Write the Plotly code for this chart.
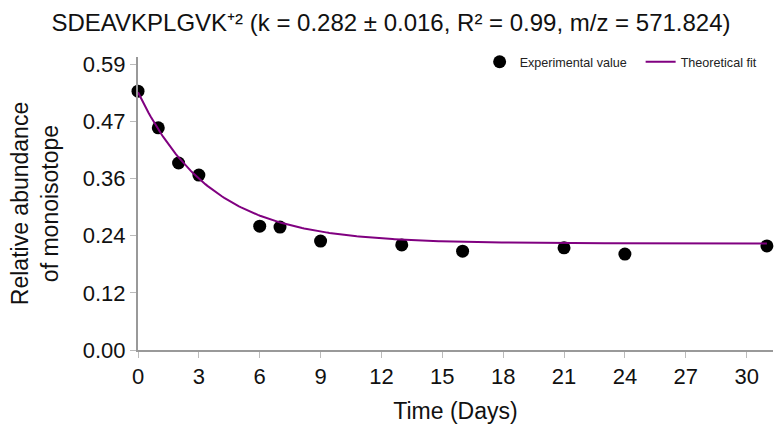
import numpy as np
import plotly.graph_objects as go

# Experimental data
days = [0, 1, 2, 3, 6, 7, 9, 13, 16, 21, 24, 31]
abundance = [0.537, 0.461, 0.388, 0.363, 0.257, 0.255, 0.226, 0.218, 0.205, 0.212, 0.199, 0.216]

# Theoretical fit parameters: y = plateau + amp * exp(-k t)
k_rate = 0.282
plateau = 0.221
amp = 0.314

y_tickvals = [0.0, 0.1186, 0.2372, 0.3558, 0.4744, 0.593]
y_ticktext = ["0.00", "0.12", "0.24", "0.36", "0.47", "0.59"]
x_tickvals = [0, 3, 6, 9, 12, 15, 18, 21, 24, 27, 30]

t_fit = np.linspace(0, 31, 300)
y_fit = plateau + amp * np.exp(-k_rate * t_fit)

FONT = "Liberation Sans, Arial, sans-serif"

fig = go.Figure()
fig.add_trace(go.Scatter(
    x=days, y=abundance, mode="markers", name="Experimental value",
    marker=dict(color="black", size=13), cliponaxis=False))
fig.add_trace(go.Scatter(
    x=t_fit, y=y_fit, mode="lines", name="Theoretical fit",
    line=dict(color="#800080", width=2), cliponaxis=False))

fig.update_layout(
    template="none",
    width=782, height=435,
    margin=dict(l=138, r=9, t=57, b=85, autoexpand=False),
    paper_bgcolor="white", plot_bgcolor="white",
    font=dict(family=FONT, color="#111"),
    title=dict(text="SDEAVKPLGVK⁺² (k = 0.282 ± 0.016, R² = 0.99, m/z = 571.824)",
               x=0.5, xref="container", xanchor="center", y=0.948, yref="container", yanchor="middle",
               font=dict(size=24, color="#111")),
    showlegend=True,
    legend=dict(orientation="h", x=0.538, xanchor="left", y=1.034, yanchor="top",
                font=dict(size=12.6, color="#222"), bgcolor="rgba(0,0,0,0)",
                borderwidth=0, itemwidth=30, entrywidth=116, entrywidthmode="pixels"),
    xaxis=dict(range=[0, 31.3], tickvals=x_tickvals, showgrid=False, zeroline=False,
               automargin=False,
               showline=True, linecolor="#999", linewidth=2, ticks="outside",
               tickcolor="#bbb", ticklen=6, tickfont=dict(size=22, family=FONT),
               title=dict(text="Time (Days)", font=dict(size=23, family=FONT), standoff=14)),
    yaxis=dict(range=[0, 0.608], tickvals=y_tickvals, ticktext=y_ticktext, showgrid=False,
               automargin=False,
               zeroline=False, showline=True, linecolor="#999", linewidth=2, ticks="outside",
               tickcolor="#bbb", ticklen=6, tickfont=dict(size=22, family=FONT),
               title=dict(text="Relative abundance<br>of monoisotope", font=dict(size=23, family=FONT), standoff=18)),
)

fig.write_html("out.html", config={"displayModeBar": False},
               post_script="document.body.style.margin='0';")
